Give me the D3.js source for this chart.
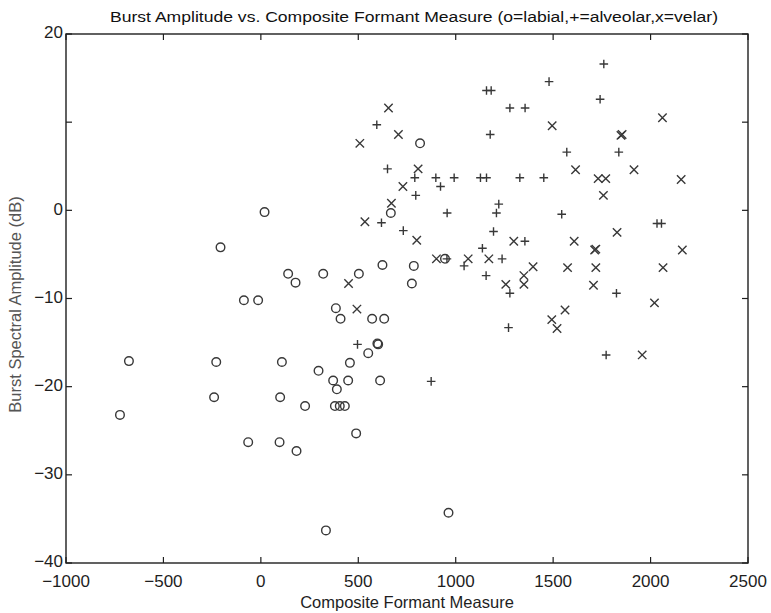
<!DOCTYPE html>
<html>
<head>
<meta charset="utf-8">
<script src="https://cdn.jsdelivr.net/npm/d3@7"></script>
<style>
  body { margin: 0; background: #fff; }
  text { font-family: "Liberation Sans", Arial, sans-serif; }
</style>
</head>
<body>
<svg id="chart" width="771" height="613"></svg>
<script>
// data: [composite formant measure, burst amplitude dB]
const labial = [
  [19, -0.2], [817, 7.6], [667, -0.3], [-207, -4.2], [140, -7.2], [178, -8.2],
  [320, -7.2], [503, -7.2], [624, -6.2], [785, -6.3], [775, -8.3], [-87, -10.2],
  [-14, -10.2], [385, -11.1], [409, -12.3], [571, -12.3], [633, -12.3],
  [602, -15.2], [598, -15.1], [551, -16.2], [457, -17.3], [-677, -17.1],
  [-229, -17.2], [108, -17.2], [296, -18.2], [371, -19.3], [448, -19.3],
  [612, -19.3], [390, -20.3], [-240, -21.2], [99, -21.2], [227, -22.2],
  [380, -22.2], [405, -22.2], [431, -22.2], [-723, -23.2], [489, -25.3],
  [-65, -26.3], [96, -26.3], [183, -27.3], [963, -34.3], [334, -36.3], [945, -5.5]
];
const alveolar = [
  [1158, 13.6], [1182, 13.6], [1278, 11.6], [1356, 11.6], [595, 9.7], [1177, 8.6],
  [650, 4.7], [790, 3.7], [898, 3.7], [992, 3.7], [1127, 3.7], [1158, 3.7],
  [1329, 3.7], [922, 2.7], [795, 1.7], [1221, 0.7], [1209, -0.3], [956, -0.3],
  [619, -1.4], [1760, 16.6], [1479, 14.6], [1741, 12.6], [1570, 6.6], [1837, 6.6],
  [1452, 3.7], [1544, -0.45], [2033, -1.5], [2056, -1.5], [1355, -3.5],
  [1825, -9.4], [1772, -16.4], [731, -2.3], [1194, -2.4], [1137, -4.3],
  [1238, -5.5], [1043, -6.3], [1156, -7.4], [1278, -9.4], [1271, -13.3],
  [496, -15.2], [874, -19.4], [955, -5.5]
];
const velar = [
  [655, 11.6], [706, 8.6], [508, 7.6], [807, 4.7], [729, 2.7], [670, 0.8],
  [534, -1.3], [1495, 9.6], [2061, 10.5], [1848, 8.5], [1854, 8.6], [1615, 4.6],
  [1731, 3.6], [1770, 3.6], [1915, 4.6], [2157, 3.5], [1758, 1.7], [1828, -2.5],
  [1608, -3.5], [1713, -4.5], [1719, -4.4], [2163, -4.5], [1397, -6.4],
  [1574, -6.5], [1719, -6.5], [2064, -6.5], [1350, -7.4], [1350, -8.4],
  [1707, -8.5], [2020, -10.5], [1561, -11.3], [1493, -12.4], [1520, -13.4],
  [1957, -16.4], [800, -3.4], [1298, -3.5], [901, -5.5], [1064, -5.5],
  [1170, -5.5], [1257, -8.4], [450, -8.3], [493, -11.2]
];

const xTicks = [-1000, -500, 0, 500, 1000, 1500, 2000, 2500];
const yTicks = [-40, -30, -20, -10, 0, 10, 20];
// the "10" label is lost in the scan
const yTickLabels = ["-40", "-30", "-20", "-10", "0", "", "20"];

const title = "Burst Amplitude vs. Composite Formant Measure (o=labial,+=alveolar,x=velar)";
const xTitle = "Composite Formant Measure";
const yTitle = "Burst Spectral Amplitude (dB)";

let margin = { top: 34, right: 23, bottom: 50, left: 66 };
let width = 771, height = 613;

let svg = d3.select("#chart");

let x = d3.scaleLinear().domain([-1000, 2500]).range([margin.left, width - margin.right]);
let y = d3.scaleLinear().domain([-40, 20]).range([height - margin.bottom, margin.top]);

let ink = "#1e1e1e", markInk = "#383838";

// frame
svg.append("rect")
  .attr("x", x(-1000)).attr("y", y(20))
  .attr("width", x(2500) - x(-1000)).attr("height", y(-40) - y(20))
  .attr("fill", "none").attr("stroke", ink).attr("stroke-width", 1.4);

// ticks (inside, matlab style)
let tickLen = 6;
svg.append("g").selectAll("line.xb").data(xTicks).join("line")
  .attr("x1", d => x(d)).attr("x2", d => x(d))
  .attr("y1", y(-40)).attr("y2", y(-40) - tickLen)
  .attr("stroke", ink).attr("stroke-width", 1.2);
svg.append("g").selectAll("line.xt").data(xTicks).join("line")
  .attr("x1", d => x(d)).attr("x2", d => x(d))
  .attr("y1", y(20)).attr("y2", y(20) + tickLen)
  .attr("stroke", ink).attr("stroke-width", 1.2);
svg.append("g").selectAll("line.yl").data(yTicks).join("line")
  .attr("x1", x(-1000)).attr("x2", x(-1000) + tickLen)
  .attr("y1", d => y(d)).attr("y2", d => y(d))
  .attr("stroke", ink).attr("stroke-width", 1.2);
svg.append("g").selectAll("line.yr").data(yTicks).join("line")
  .attr("x1", x(2500)).attr("x2", x(2500) - tickLen)
  .attr("y1", d => y(d)).attr("y2", d => y(d))
  .attr("stroke", ink).attr("stroke-width", 1.2);

// tick labels
svg.append("g").selectAll("text").data(xTicks).join("text")
  .attr("x", d => x(d)).attr("y", y(-40) + 24)
  .attr("text-anchor", "middle").attr("font-size", 17).attr("fill", ink)
  .text(d => d3.format("d")(d).replace("-", "\u2212"));
svg.append("g").selectAll("text").data(yTicks).join("text")
  .attr("x", x(-1000) - 3).attr("y", d => y(d)).attr("dy", "0.25em")
  .attr("text-anchor", "end").attr("font-size", 17).attr("fill", ink)
  .text((d, i) => yTickLabels[i].replace("-", "\u2212"));

// titles
svg.append("text")
  .attr("x", 414).attr("y", 22)
  .attr("text-anchor", "middle").attr("font-size", 15.5).attr("fill", "#111")
  .attr("textLength", 608).attr("lengthAdjust", "spacingAndGlyphs")
  .text(title);
svg.append("text")
  .attr("x", (x(-1000) + x(2500)) / 2).attr("y", 608)
  .attr("text-anchor", "middle").attr("font-size", 16.5).attr("fill", ink)
  .text(xTitle);
svg.append("text")
  .attr("transform", `translate(21,${(y(20) + y(-40)) / 2 + 6}) rotate(-90)`)
  .attr("text-anchor", "middle").attr("font-size", 16.5).attr("fill", "#555")
  .text(yTitle);

// markers
let marks = svg.append("g").attr("fill", "none").attr("stroke", markInk).attr("stroke-width", 1.4);

marks.selectAll("circle").data(labial).join("circle")
  .attr("cx", d => x(d[0])).attr("cy", d => y(d[1])).attr("r", 4.3);

let p = 4.3;
marks.selectAll("path.plus").data(alveolar).join("path")
  .attr("class", "plus")
  .attr("d", d => {
    let cx = x(d[0]), cy = y(d[1]);
    return `M${cx - p},${cy}H${cx + p}M${cx},${cy - p}V${cy + p}`;
  });

let c = 4.2;
marks.selectAll("path.cross").data(velar).join("path")
  .attr("class", "cross")
  .attr("d", d => {
    let cx = x(d[0]), cy = y(d[1]);
    return `M${cx - c},${cy - c}L${cx + c},${cy + c}M${cx - c},${cy + c}L${cx + c},${cy - c}`;
  });
</script>
</body>
</html>
